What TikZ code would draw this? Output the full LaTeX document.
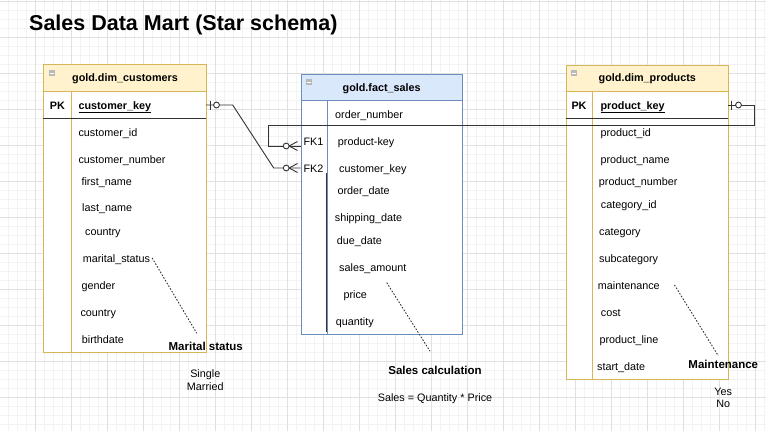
\documentclass[tikz,border=0pt]{standalone}
\usepackage{fontspec}
\setmainfont{Liberation Sans}
\usetikzlibrary{calc}
\definecolor{ylfill}{HTML}{FFF2CC}
\definecolor{ylline}{HTML}{D6B656}
\definecolor{blfill}{HTML}{DAE8FC}
\definecolor{blline}{HTML}{6C8EBF}
\definecolor{gridmin}{HTML}{F3F3F3}
\definecolor{gridmaj}{HTML}{E0E0E0}
\definecolor{ink}{HTML}{333333}
\newcommand{\fsz}{\fontsize{10.8}{12}\selectfont}
\tikzset{
  fld/.style={font=\fsz, anchor=base west, inner sep=0pt, text=black},
  keyfld/.style={font=\fsz\bfseries, anchor=base west, inner sep=0pt, text=black},
  hdr/.style={font=\fsz\bfseries, anchor=base, inner sep=0pt},
  note/.style={font=\fontsize{11.5}{13}\selectfont\bfseries, anchor=base, inner sep=0pt},
  small/.style={font=\fsz, anchor=base, inner sep=0pt},
  conn/.style={draw=ink, line width=0.9pt},
  dotl/.style={draw=ink, line width=0.9pt, dash pattern=on 1.6pt off 1.6pt},
  rowbox/.style={inner sep=0pt, draw=none},
}
\begin{document}
\begin{tikzpicture}[x=1pt,y=-1pt]
\useasboundingbox (0,0) rectangle (766,431);
\fill[white] (0,0) rectangle (766,431);
% grid
\foreach \k in {0,...,85} { \draw[gridmin, line width=0.6pt] ({8.5+9*\k},0) -- ({8.5+9*\k},431); }
\foreach \k in {0,...,48} { \draw[gridmin, line width=0.6pt] (0,{1+9*\k}) -- (766,{1+9*\k}); }
\foreach \k in {0,...,21} { \draw[gridmaj, line width=0.7pt] ({35.5+36*\k},0) -- ({35.5+36*\k},431); }
\foreach \k in {0,...,11} { \draw[gridmaj, line width=0.7pt] (0,{1+36*\k}) -- (766,{1+36*\k}); }

% title
\node[font=\fontsize{21.5}{24}\selectfont\bfseries, anchor=base west, inner sep=0pt] (title) at (29,30.5) {Sales Data Mart (Star schema)};

% ---------- customers ----------
\node[rowbox, minimum width=162.7pt, minimum height=287.6pt, fill=white, draw=ylline, line width=0.8pt, anchor=north west] (cust) at (43.3,64.7) {};
\fill[ylfill] (43.3,64.7) rectangle (206,91.7);
\draw[ylline, line width=0.8pt] (43.3,64.7) rectangle (206,352.3);
\draw[ylline, line width=0.8pt] (43.3,91.7) -- (206,91.7);
\draw[ylline, line width=0.8pt] (71.7,91.7) -- (71.7,352.3);
\draw[ink, line width=0.9pt] (43.3,118.7) -- (206,118.7);
\fill[gray!55] (48.6,70.2) rectangle (54.8,76.4);
\draw[white, line width=0.8pt] (49.6,73.3) -- (53.8,73.3);
\node[hdr] (custh) at (125,81.7) {gold.dim\_customers};
\node[rowbox, minimum width=162.7pt, minimum height=27pt] (custPK) at (124.65,105) {};
\node[keyfld, anchor=base] (custpk) at (57.3,109) {PK};
\node[keyfld] (ckey) at (78.3,109) {\underline{customer\_key}};
\node[fld] (cid) at (78.3,136.3) {customer\_id};
\node[fld] (cnum) at (78.3,163.3) {customer\_number};
\node[fld] (cfn) at (81.3,185) {first\_name};
\node[fld] (cln) at (82,211.7) {last\_name};
\node[fld] (cco1) at (85,235.7) {country};
\node[fld] (cms) at (82.7,262.3) {marital\_status};
\node[fld] (cge) at (81.3,289.3) {gender};
\node[fld] (cco2) at (80.3,316.3) {country};
\node[fld] (cbd) at (81.7,343) {birthdate};

% ---------- fact ----------
\fill[white] (300.7,74) rectangle (462.3,334.3);
\fill[blfill] (300.7,74) rectangle (462.3,100.7);
\node[rowbox, minimum width=161.6pt, minimum height=260.3pt, draw=blline, line width=0.8pt, anchor=north west] (fact) at (300.7,74) {};
\draw[blline, line width=0.8pt] (300.7,100.7) -- (462.3,100.7);
\draw[blline, line width=0.8pt] (327.7,100.7) -- (327.7,334.3);
\draw[ink, line width=0.9pt] (326.7,173.3) -- (326.7,332.3);
\fill[gray!55] (306,79.2) rectangle (312.2,85.4);
\draw[white, line width=0.8pt] (307,82.3) -- (311.2,82.3);
\node[hdr] (facth) at (381.7,91.3) {gold.fact\_sales};
\node[rowbox, minimum width=161.6pt, minimum height=20pt] (fk1row) at (381.5,146) {};
\node[rowbox, minimum width=161.6pt, minimum height=20pt] (fk2row) at (381.5,168) {};
\node[fld] (fon) at (335,118.3) {order\_number};
\node[fld] (ffk1) at (303.3,145) {FK1};
\node[fld] (ffk2) at (303.3,172.3) {FK2};
\node[fld] (fpk) at (337.7,145) {product-key};
\node[fld] (fck) at (339,172.3) {customer\_key};
\node[fld] (fod) at (337.3,194) {order\_date};
\node[fld] (fsd) at (334.7,221.3) {shipping\_date};
\node[fld] (fdd) at (336.7,244.7) {due\_date};
\node[fld] (fsa) at (339,271.3) {sales\_amount};
\node[fld] (fpr) at (343.3,298.3) {price};
\node[fld] (fqt) at (335.7,325.3) {quantity};

% ---------- products ----------
\fill[white] (565.7,64.7) rectangle (727.7,379);
\fill[ylfill] (565.7,64.7) rectangle (727.7,91.7);
\node[rowbox, minimum width=162pt, minimum height=314.3pt, draw=ylline, line width=0.8pt, anchor=north west] (prod) at (565.7,64.7) {};
\draw[ylline, line width=0.8pt] (565.7,91.7) -- (727.7,91.7);
\draw[ylline, line width=0.8pt] (592.7,91.7) -- (592.7,379);
\draw[ink, line width=0.9pt] (565.7,118.7) -- (727.7,118.7);
\fill[gray!55] (570.9,70.2) rectangle (577.1,76.4);
\draw[white, line width=0.8pt] (571.9,73.3) -- (576.1,73.3);
\node[hdr] (prodh) at (647.3,81.7) {gold.dim\_products};
\node[rowbox, minimum width=162pt, minimum height=27pt] (prodPK) at (646.7,105) {};
\node[keyfld, anchor=base] (prodpk) at (579,109) {PK};
\node[keyfld] (pkey) at (600.3,109) {\underline{product\_key}};
\node[fld] (pid) at (600.3,136) {product\_id};
\node[fld] (pnm) at (600.3,163.3) {product\_name};
\node[fld] (pnu) at (598.7,185) {product\_number};
\node[fld] (pci) at (600.7,208.3) {category\_id};
\node[fld] (pca) at (599,235.7) {category};
\node[fld] (psc) at (599,262.3) {subcategory};
\node[fld] (pma) at (597.7,289.3) {maintenance};
\node[fld] (pco) at (600.7,316.3) {cost};
\node[fld] (pli) at (599.3,343.3) {product\_line};
\node[fld] (psd) at (597,370) {start\_date};

% ---------- notes ----------
\node[note] (msl) at (205.7,350.7) {Marital status};
\node[small] (msv1) at (205.3,377.3) {Single};
\node[small] (msv2) at (205.3,390) {Married};
\node[note] (scl) at (435,374.7) {Sales calculation};
\node[small] (scf) at (435,401.3) {Sales = Quantity * Price};
\node[note] (mnl) at (723.3,368.3) {Maintenance};
\node[small] (mnv1) at (723.3,395) {Yes};
\node[small] (mnv2) at (723.3,407.3) {No};

% dotted annotation lines
\draw[dotl] ($(cms.east)+(1.8,-1.5)$) -- ($(msl.north)+(-9,-9)$);
\draw[dotl] ($(fsa.south west)+(47.7,9)$) -- ($(scl.north)+(-5,-15)$);
\draw[dotl] ($(pma.east)+(14.5,-0.5)$) -- ($(mnl.north)+(-5,-4)$);

% ---------- connectors ----------
\coordinate (pR) at (754.3,125);
\coordinate (pL) at (268.3,125);
\coordinate (cA) at (232.7,105);
\coordinate (cB) at (273.7,168);
\draw[conn] (prodPK.east) -| (pR) -- (pL) |- (fk1row.west);
\draw[conn] (custPK.east) -- (cA) -- (cB) -- (fk2row.west);
% zero-or-one ends
\draw[conn] ($(custPK.east)+(4,-4.5)$) -- ++(0,9);
\draw[conn, fill=white] ($(custPK.east)+(10.3,0)$) circle (2.9);
\draw[conn] ($(prodPK.east)+(3.5,-4.5)$) -- ++(0,9);
\draw[conn, fill=white] ($(prodPK.east)+(10.6,0)$) circle (2.9);
% zero-or-many ends
\foreach \r in {fk1row, fk2row} {
  \draw[conn] ($(\r.west)+(-11.4,0)$) -- ($(\r.west)+(-3,-4.5)$);
  \draw[conn] ($(\r.west)+(-11.4,0)$) -- ($(\r.west)+(-3,4.5)$);
  \draw[conn, fill=white] ($(\r.west)+(-14.3,0)$) circle (2.9);
}
\end{tikzpicture}
\end{document}
